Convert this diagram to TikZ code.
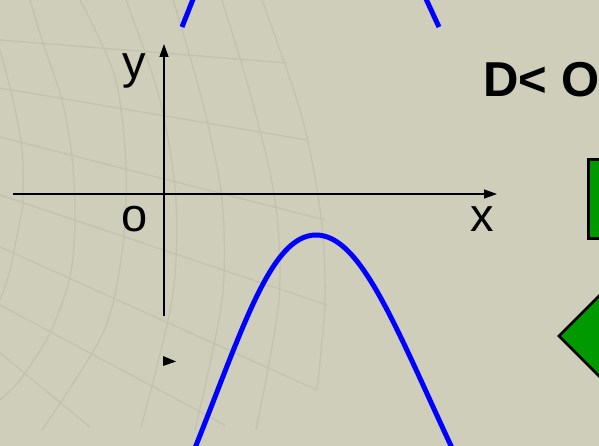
\documentclass[tikz,border=0pt]{standalone}
\usepackage{fontspec}
\setmainfont{Liberation Sans}
\usetikzlibrary{arrows.meta}
\definecolor{bg}{RGB}{207,206,186}
\definecolor{gridc}{RGB}{195,194,175}
\definecolor{leaf}{RGB}{0,153,0}
\begin{document}
\begin{tikzpicture}[x=1pt,y=-1pt,
  gridline/.style={draw=gridc,line width=1.3pt},
  axis/.style={draw=black,line width=1.4pt,-{Triangle[length=13pt,width=9pt]}},
  lbl/.style={inner sep=0pt,anchor=base,font=\fontsize{47}{47}\selectfont},
  curve/.style={draw=blue,line width=5pt},
  gshape/.style={fill=leaf,draw=black,line width=2.5pt,line join=miter}]
\useasboundingbox (0,0) rectangle (599,446);
\clip (0,0) rectangle (599,446);
\fill[bg] (0,0) rectangle (599,446);
% background grid texture
\draw[gridline] (0,40) -- (287,63);
\draw[gridline] (0,88) -- (307,140);
\draw[gridline] (0,137) -- (325,220);
\draw[gridline] (0,195) -- (327,305);
\draw[gridline] (0,247) -- (317,390);
\draw[gridline] (0,305) -- (225,425);
\draw[gridline] (0,353) -- (90,427);
\draw[gridline] plot[smooth] coordinates {(30,0) (43,43) (62,100) (72,157) (75,220) (70,277) (50,333) (20,380) (0,400)};
\draw[gridline] plot[smooth] coordinates {(0,50) (13,100) (22,150) (23,200) (20,220) (10,270) (0,300)};
\draw[gridline] plot[smooth] coordinates {(80,0) (115,77) (126,167) (122,253) (103,333) (42,430)};
\draw[gridline] plot[smooth] coordinates {(126,0) (160,100) (176,200) (172,300) (141,427)};
\draw[gridline] plot[smooth] coordinates {(173,0) (202,100) (222,200) (222,300) (195,430)};
\draw[gridline] plot[smooth] coordinates {(222,0) (252,100) (275,200) (279,300) (256,430)};
\draw[gridline] plot[smooth] coordinates {(262,0) (302,117) (321,217) (325,300) (317,390)};
% axes
\coordinate (xs) at (13,194);
\coordinate (xe) at (497,194);
\coordinate (ys) at (164,316);
\coordinate (ye) at (164,44);
\draw[axis] (xs) -- (xe);
\draw[axis] (ys) -- (ye);
\node[lbl] (ylab) at (134.5,79) {y};
\node[lbl] (olab) at (135,232) {o};
\node[lbl] (xlab) at (482.5,232) {x};
% stray arrow head
\fill[black] (163,356) -- (176,361.5) -- (163,366) -- cycle;
% parabolas
\draw[curve] (195,448) .. controls (243,328) and (271,235) .. (316,235)
             .. controls (361,235) and (396,328) .. (452,448);
\begin{scope}[shift={(-13,-419)}]
\draw[curve] (195,446) .. controls (243,326) and (271,235) .. (316,235)
             .. controls (361,235) and (396,326) .. (452,446);
\end{scope}
% condition text
\node[inner sep=0pt,anchor=base west,font=\bfseries\fontsize{49}{49}\selectfont] (cond) at (483.3,97) {D< O};
% green shapes
\draw[gshape] (640,159.3) -- (588.5,159.3) -- (588.5,238.7) -- (640,238.7);
\draw[gshape] (559,336) -- (639,256) -- (719,336) -- (639,416) -- cycle;
\end{tikzpicture}
\end{document}
